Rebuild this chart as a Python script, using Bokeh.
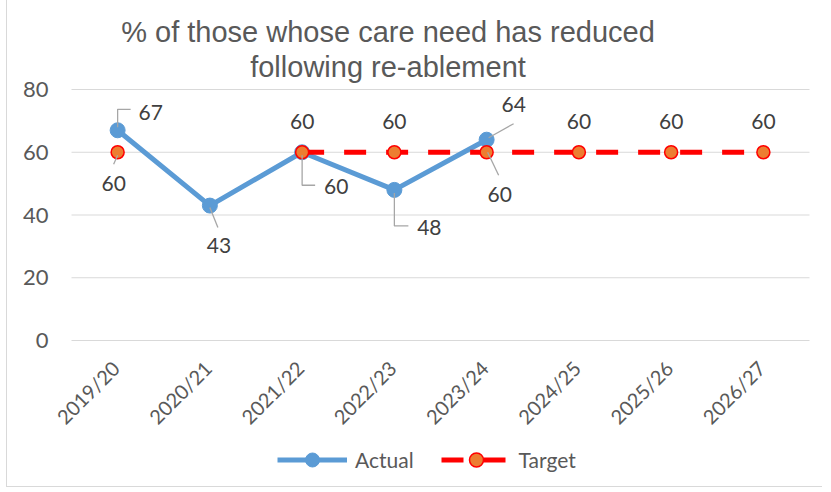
import math
from bokeh.plotting import figure
from bokeh.models import Range1d, Legend, LegendItem, Label, ColumnDataSource
from bokeh.core.properties import value
from bokeh.embed import file_html
from bokeh.resources import INLINE

nan = float("nan")

# ---- data ----
categories = ["2019/20", "2020/21", "2021/22", "2022/23", "2023/24", "2024/25", "2025/26", "2026/27"]
actual = [67, 43, 60, 48, 64, nan, nan, nan]
target = [60, nan, 60, 60, 60, 60, 60, 60]
y_ticks = [0, 20, 40, 60, 80]
y_max = 80
title_lines = ["% of those whose care need has reduced", "following re-ablement"]

# ---- label placement (screen px offsets from the point, +y down) ----
actual_label_dx = [33, 9, 34, 35, 27]
actual_label_dy = [-18, 40, 34, 38, -35]
actual_leaders = [
    [(0, -3), (0, -21), (13, -21)],
    [(0, 2), (8, 22)],
    [(0, 3), (0, 33), (13, 33)],
    [(0, 3), (0, 36), (14, 36)],
    [(2, -2), (27, -16)],
]
target_label_dx = [-4, None, 0, 0, 13, 0, 0, 0]
target_label_dy = [31, None, -31, -31, 42, -31, -31, -31]
target_leaders = {0: [(0, 3), (-4, 12)], 4: [(1, 0), (12, 23)]}

FONT = "Lato"
TXT = "#404040"
AXT = "#595959"

# ---- layout (pixels inside the figure) ----
W, H = 816, 487
PX_L, PX_R = 64, 802      # plot area left/right
PY_T, PY_B = 89, 340      # plot area top/bottom
ncat = len(categories)
sx = (PX_R - PX_L) / ncat
sy = (PY_B - PY_T) / y_max
ux, uy = 1 / sx, 1 / sy

x_range = Range1d(-PX_L / sx, ncat + (W - PX_R) / sx)
y_range = Range1d(-(H - PY_B) / sy, y_max + PY_T / sy)

p = figure(width=W, height=H, output_backend="svg", toolbar_location=None,
           x_range=x_range, y_range=y_range, x_axis_type=None, y_axis_type=None,
           min_border=0)
p.styles = {"margin-left": "6px", "border-left": "1px solid #D9D9D9",
            "border-bottom": "1px solid #D9D9D9"}
p.outline_line_color = None
p.background_fill_color = "white"
p.border_fill_color = "white"
p.xgrid.visible = False
p.ygrid.visible = False

xs = [i + 0.5 for i in range(ncat)]

# gridlines & axis labels
p.segment(x0=[0] * len(y_ticks), x1=[ncat] * len(y_ticks), y0=y_ticks, y1=y_ticks,
          line_color="#D9D9D9", line_width=1)
p.text(x=[0] * len(y_ticks), y=y_ticks, text=[str(t) for t in y_ticks], x_offset=-23,
       text_align="right", text_baseline="middle", text_font=value(FONT),
       text_font_size="22px", text_color=AXT)
p.text(x=xs, y=[0] * ncat, text=categories, angle=math.pi / 4, x_offset=-2, y_offset=24,
       text_align="right", text_baseline="middle", text_font=value(FONT),
       text_font_size="20px", text_color=AXT)

# series
r_al = p.line(xs, actual, line_color="#5B9BD5", line_width=5, line_join="round")
r_ap = p.scatter(xs, actual, size=15, marker="circle", fill_color="#5B9BD5", line_color="#5B9BD5")
r_tl = p.line(xs, target, line_color="#FF0000", line_width=5, line_dash="22 20")
r_tp = p.scatter(xs, target, size=13, marker="circle", fill_color="#ED7D31", line_color="#FF0000", line_width=1.5)

# leader lines
lx, ly = [], []
for i, pts in enumerate(actual_leaders):
    lx.append([xs[i] + dx * ux for dx, dy in pts])
    ly.append([actual[i] - dy * uy for dx, dy in pts])
for i, pts in target_leaders.items():
    lx.append([xs[i] + dx * ux for dx, dy in pts])
    ly.append([target[i] - dy * uy for dx, dy in pts])
p.multi_line(lx, ly, line_color="#A6A6A6", line_width=1.3)

# data labels
tx, ty, tt, tdx, tdy = [], [], [], [], []
for i, v in enumerate(actual):
    if v == v:
        tx.append(xs[i]); ty.append(v); tt.append(str(v))
        tdx.append(actual_label_dx[i]); tdy.append(actual_label_dy[i])
for i, v in enumerate(target):
    if v == v:
        tx.append(xs[i]); ty.append(v); tt.append(str(v))
        tdx.append(target_label_dx[i]); tdy.append(target_label_dy[i])
src = ColumnDataSource(dict(x=tx, y=ty, t=tt, dx=tdx, dy=tdy))
p.text(x="x", y="y", text="t", x_offset="dx", y_offset="dy", source=src,
       text_align="center", text_baseline="middle", text_font=value(FONT),
       text_font_size="21px", text_color=TXT)

# title
for k, line in enumerate(title_lines):
    p.add_layout(Label(x=380.5, y=[H - 31, H - 66][k], x_units="screen", y_units="screen", text=line,
                       text_align="center", text_baseline="middle", text_font="Liberation Sans",
                       text_font_size="29px", text_color=AXT))

legend = Legend(items=[LegendItem(label="Actual", renderers=[r_al, r_ap]),
                       LegendItem(label="Target", renderers=[r_tl, r_tp])],
                location=(270, 10), orientation="horizontal", glyph_width=70, glyph_height=35,
                label_standoff=8, spacing=27, padding=0, margin=0, border_line_color=None,
                background_fill_alpha=0, label_text_font=FONT, label_text_font_size="21px",
                label_text_color=AXT, label_height=35)
p.add_layout(legend)

open("out.html", "w").write(file_html(p, INLINE))
